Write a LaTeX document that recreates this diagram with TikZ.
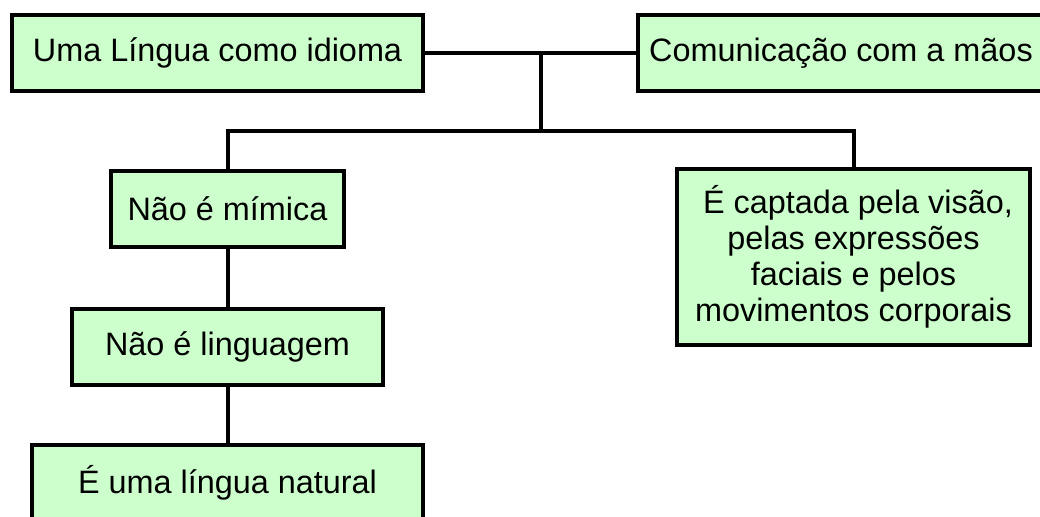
\documentclass[tikz,border=0pt]{standalone}
\usepackage{fontspec}
\setmainfont{Liberation Sans}
\definecolor{boxfill}{HTML}{CCFFCC}
\begin{document}
\begin{tikzpicture}[x=0.75pt,y=-0.75pt,
  box/.style={draw=black,fill=boxfill,line width=3pt,inner sep=0pt,
    font=\fontsize{24.3}{27}\selectfont,text=black,align=center,
    minimum height=57pt},
  link/.style={draw=black,line width=3pt}]
\clip (0,0) rectangle (1040,517);
\fill[white] (0,0) rectangle (1040,517);
\node[box,minimum width=308.25pt] (a) at (217.5,53) {Uma Língua como idioma};
\node[box,minimum width=304.5pt] (b) at (841,53) {Comunicação com a mãos};
\node[box,minimum width=174.75pt] (c) at (227.5,209) {Não é mímica};
\node[box,minimum width=233.25pt] (d) at (227.5,347) {Não é linguagem};
\node[box,minimum width=293.25pt] (e) at (227.5,483) {É uma língua natural};
\node[box,minimum width=264.75pt,minimum height=132pt] (f) at (853.5,257)
  {\ É captada pela visão,\\pelas expressões\\faciais e pelos\\movimentos corporais};
\coordinate (j) at (541,53);
\coordinate (h) at (541,131);
\draw[link] (a.east) -- (b.west);
\draw[link] (j) -- (h);
\draw[link] (c.north) |- (h) -| (f.north);
\draw[link] (c.south) -- (d.north);
\draw[link] (d.south) -- (e.north);
\end{tikzpicture}
\end{document}
